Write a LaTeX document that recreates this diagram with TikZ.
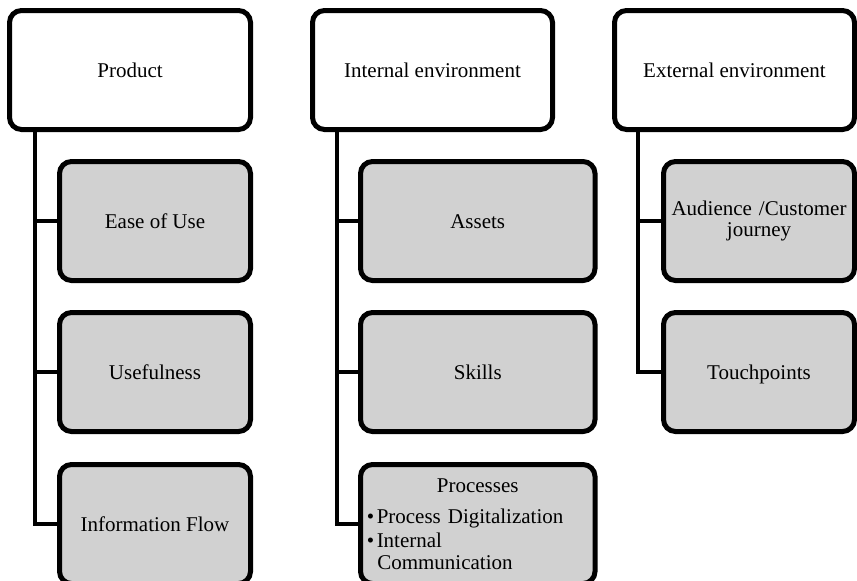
\documentclass[tikz,border=0pt]{standalone}
\usepackage{fontspec}
\setmainfont{Liberation Serif}
\definecolor{boxgray}{RGB}{209,209,209}
\tikzset{
  basebox/.style={draw=black, line width=5pt, rounded corners=12pt, inner sep=0pt, font=\fontsize{21}{22.5}\selectfont},
  parentbox/.style={basebox, fill=white, minimum width=241pt, minimum height=119pt},
  childbox/.style={basebox, fill=boxgray, minimum height=119pt},
  oneline/.style={text height=14pt, text depth=0pt},
  conn/.style={draw=black, line width=4.5pt, line join=miter}
}
\begin{document}
\begin{tikzpicture}[x=1pt,y=-1pt]
\useasboundingbox (0,0) rectangle (857,581);
\clip (0,0) rectangle (857,581);
% parents
\node[parentbox, oneline] (p1) at (130,70) {Product};
\node[parentbox, oneline, minimum width=240pt] (p2) at (432.5,70) {Internal environment};
\node[parentbox, oneline, minimum width=240pt] (p3) at (734.5,70) {External environment};
% column 1 children
\node[childbox, oneline, minimum width=191pt] (c11) at (155,221) {Ease of Use};
\node[childbox, oneline, minimum width=191pt] (c12) at (155,372) {Usefulness};
\node[childbox, oneline, minimum width=191pt] (c13) at (155,524) {Information Flow};
% column 2 children
\node[childbox, oneline, minimum width=234.5pt] (c21) at (477.75,221) {Assets};
\node[childbox, oneline, minimum width=234.5pt] (c22) at (477.75,372) {Skills};
\node[childbox, minimum width=234.5pt, text width=222pt] (c23) at (477.75,524) {%
  {\centering Processes\par}\vspace{8.5pt}%
  {\raggedright\makebox[10pt][l]{\textbullet}Process Digitalization\par}\vspace{1.5pt}%
  {\raggedright\makebox[10pt][l]{\textbullet}Internal\\\hspace*{10.5pt}Communication\par}\vspace{14pt}};
% column 3 children
\node[childbox, minimum width=191pt, text width=190pt, align=center, font=\fontsize{21}{21}\selectfont] (c31) at (759,221) {Audience /Customer\\journey};
\node[childbox, oneline, minimum width=191pt] (c32) at (759,372) {Touchpoints};
% connectors
\coordinate (v1) at (35,129.5);
\coordinate (v2) at (337,129.5);
\coordinate (v3) at (638,129.5);
\draw[conn] (v1) |- (c13.west);
\draw[conn] (v1 |- c11.west) -- (c11.west);
\draw[conn] (v1 |- c12.west) -- (c12.west);
\draw[conn] (v2) |- (c23.west);
\draw[conn] (v2 |- c21.west) -- (c21.west);
\draw[conn] (v2 |- c22.west) -- (c22.west);
\draw[conn] (v3) |- (c32.west);
\draw[conn] (v3 |- c31.west) -- (c31.west);
\end{tikzpicture}
\end{document}
